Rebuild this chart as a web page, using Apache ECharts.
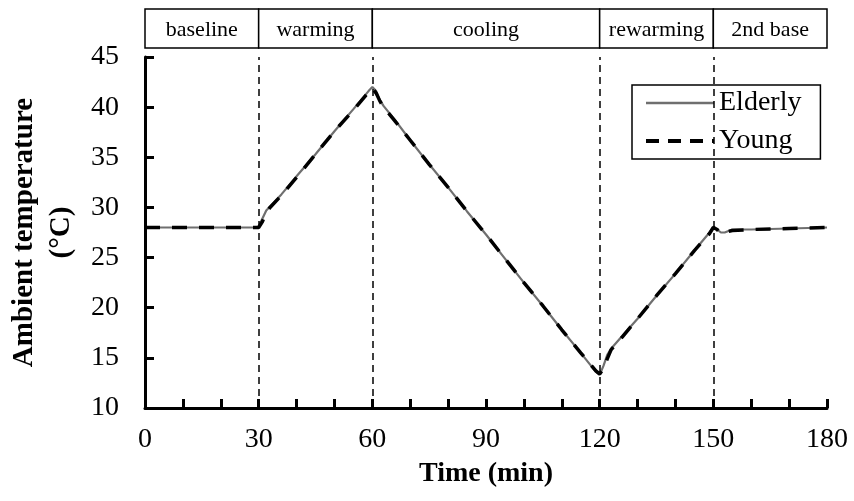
<!DOCTYPE html>
<html>
<head>
<meta charset="utf-8">
<script src="https://cdn.jsdelivr.net/npm/echarts@6/dist/echarts.min.js"></script>
<style>
  html, body { margin: 0; padding: 0; background: #fff; }
  #chart { width: 854px; height: 501px; }
</style>
</head>
<body>
<div id="chart"></div>
<script>
  // time points (min)
  var times = [0, 10, 20, 29, 30, 31, 32, 33, 36, 40, 45, 50, 55, 59, 60, 61, 62, 63, 66, 70, 75, 80, 85, 90, 95, 100, 105, 110, 115, 119, 120, 121, 122, 123, 126, 130, 135, 140, 145, 149, 150, 151, 152, 153, 155, 160, 170, 180];
  var elderly = [28.0, 28.0, 28.0, 28.0, 28.1, 28.9, 29.7, 30.1, 31.3, 33.1, 35.3, 37.6, 39.8, 41.6, 42.0, 41.6, 40.7, 40.1, 38.7, 36.7, 34.3, 32.0, 29.6, 27.3, 24.9, 22.5, 20.2, 17.8, 15.5, 13.6, 13.3, 14.2, 15.3, 15.9, 17.2, 18.9, 21.2, 23.4, 25.7, 27.5, 28.1, 27.8, 27.5, 27.5, 27.8, 27.8, 27.9, 28.0];
  var young = [28.0, 28.0, 28.0, 28.0, 28.0, 28.6, 29.5, 30.0, 31.2, 33.0, 35.3, 37.6, 39.7, 41.5, 41.9, 41.4, 40.6, 40.0, 38.6, 36.7, 34.3, 32.0, 29.6, 27.3, 24.9, 22.5, 20.2, 17.8, 15.5, 13.7, 13.4, 13.9, 14.9, 15.8, 17.1, 18.9, 21.2, 23.4, 25.7, 27.4, 28.0, 27.8, 27.4, 27.5, 27.7, 27.8, 27.9, 28.0];

  // phases shown in the boxes above the plot
  var phaseNames = ['baseline', 'warming', 'cooling', 'rewarming', '2nd base'];
  var phaseStart = [0, 30, 60, 120, 150];
  var phaseEnd = [30, 60, 120, 150, 180];

  var font = 'Liberation Serif';

  function pairs(xs, ys) {
    return xs.map(function (t, i) { return [t, ys[i]]; });
  }

  var chart = echarts.init(document.getElementById('chart'));
  chart.setOption({
    backgroundColor: '#fff',
    animation: false,
    textStyle: { fontFamily: font, color: '#000' },
    grid: [
      { left: 145, right: 27, top: 57, bottom: 93, outerBoundsMode: 'none' },
      { left: 145, right: 27, top: 9, height: 39, outerBoundsMode: 'none' }
    ],
    legend: {
      orient: 'vertical',
      left: 632,
      top: 85,
      padding: [4, 19, 4, 12],
      borderColor: '#000',
      borderWidth: 1.5,
      itemWidth: 68,
      itemHeight: 14,
      itemGap: 10,
      itemStyle: { opacity: 0 },
      textStyle: { fontFamily: font, fontSize: 28, color: '#000' },
      data: [
        { name: 'Elderly', lineStyle: { color: '#6f6f6f', width: 2.5, type: 'solid' } },
        { name: 'Young', lineStyle: { color: '#000', width: 4, type: [13, 9] } }
      ]
    },
    xAxis: [
      {
        type: 'value',
        min: 0,
        max: 180,
        interval: 10,
        name: 'Time (min)',
        nameLocation: 'middle',
        nameGap: 52,
        nameTextStyle: { fontFamily: font, fontWeight: 'bold', fontSize: 28, color: '#000' },
        axisLine: { lineStyle: { color: '#000', width: 3 } },
        axisTick: { inside: true, length: 9, lineStyle: { color: '#000', width: 3 } },
        axisLabel: {
          margin: 18,
          fontFamily: font,
          fontSize: 28,
          color: '#000',
          formatter: function (v) { return v % 30 === 0 ? v : ''; }
        },
        splitLine: { show: false }
      },
      { type: 'value', gridIndex: 1, min: 0, max: 180, show: false }
    ],
    yAxis: [
      {
        type: 'value',
        min: 10,
        max: 45,
        interval: 5,
        name: 'Ambient temperature\n(°C)',
        nameLocation: 'middle',
        nameGap: 63,
        nameTextStyle: { fontFamily: font, fontWeight: 'bold', fontSize: 29, lineHeight: 37, color: '#000' },
        axisLine: { show: true, lineStyle: { color: '#000', width: 3 } },
        axisTick: { show: true, inside: true, length: 9, lineStyle: { color: '#000', width: 3 } },
        axisLabel: { margin: 26, fontFamily: font, fontSize: 28, color: '#000' },
        splitLine: { show: false }
      },
      { type: 'value', gridIndex: 1, min: 0, max: 1, show: false }
    ],
    series: [
      {
        name: 'Elderly',
        type: 'line',
        data: pairs(times, elderly),
        symbol: 'none',
        lineStyle: { color: '#6f6f6f', width: 2.2 },
        itemStyle: { color: '#6f6f6f' },
        z: 3,
        markLine: {
          silent: true,
          symbol: 'none',
          label: { show: false },
          lineStyle: { color: '#000', width: 1.5, type: [7, 5] },
          data: phaseStart.slice(1).map(function (t) { return { xAxis: t }; })
        }
      },
      {
        name: 'Young',
        type: 'line',
        data: pairs(times, young),
        symbol: 'none',
        lineStyle: { color: '#000', width: 3.5, type: [15, 12] },
        itemStyle: { color: '#000' },
        z: 4
      },
      {
        name: 'phases',
        type: 'custom',
        xAxisIndex: 1,
        yAxisIndex: 1,
        silent: true,
        data: phaseNames.map(function (n, i) { return [phaseStart[i], phaseEnd[i], n]; }),
        renderItem: function (params, api) {
          var p0 = api.coord([api.value(0), 1]);
          var p1 = api.coord([api.value(1), 0]);
          var name = phaseNames[params.dataIndex];
          return {
            type: 'group',
            children: [
              {
                type: 'rect',
                shape: { x: p0[0], y: p0[1], width: p1[0] - p0[0], height: p1[1] - p0[1] },
                style: { fill: '#fff', stroke: '#000', lineWidth: 1.5 }
              },
              {
                type: 'text',
                style: {
                  x: (p0[0] + p1[0]) / 2,
                  y: (p0[1] + p1[1]) / 2 + 2,
                  text: name,
                  align: 'center',
                  verticalAlign: 'middle',
                  font: '22px "Liberation Serif"',
                  fill: '#000'
                }
              }
            ]
          };
        }
      }
    ]
  });
</script>
</body>
</html>
